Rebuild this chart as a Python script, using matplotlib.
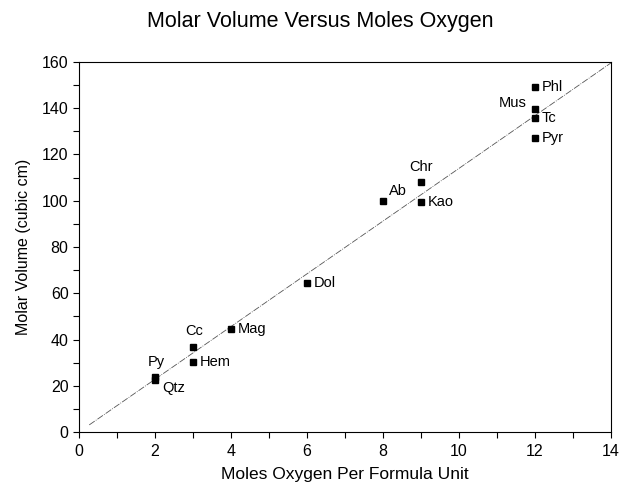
import matplotlib
matplotlib.use("Agg")
import matplotlib.pyplot as plt
import numpy as np
from matplotlib.ticker import MultipleLocator

plt.rcParams['font.family'] = ['Liberation Sans', 'DejaVu Sans']

minerals = ["Py", "Qtz", "Cc", "Hem", "Mag", "Dol", "Ab", "Chr", "Kao", "Phl", "Mus", "Tc", "Pyr"]
moles_oxygen = [2, 2, 3, 3, 4, 6, 8, 9, 9, 12, 12, 12, 12]
molar_volume = [23.7, 22.7, 36.9, 30.4, 44.5, 64.6, 100.0, 108.2, 99.3, 149.3, 139.8, 135.8, 127.1]

# label offsets in points (dx, dy) and horizontal alignment
label_offsets = {
    "Py": (1, 11, "center"), "Qtz": (5, -6, "left"), "Cc": (1, 11, "center"),
    "Hem": (5, 0, "left"), "Mag": (5, 0, "left"), "Dol": (5, 0, "left"),
    "Ab": (11, 7, "center"), "Chr": (0, 11, "center"), "Kao": (5, 0, "left"),
    "Phl": (5, 0, "left"), "Mus": (-6, 4, "right"), "Tc": (5, 0, "left"),
    "Pyr": (5, 0, "left"),
}

fit_slope = 11.4
fit_x = np.array([0.27, 14.0])

fig = plt.figure(figsize=(6.21, 4.82), dpi=100)
ax = fig.add_axes([0.1272, 0.1037, 0.8567, 0.7677])

ax.plot(fit_x, fit_slope * fit_x, color="#555555", lw=0.6,
        linestyle=(0, (8, 1.5, 1, 1.5)), zorder=1)
ax.plot(moles_oxygen, molar_volume, linestyle="none", marker="s",
        markersize=4.2, color="black", zorder=2)

for name, x, y in zip(minerals, moles_oxygen, molar_volume):
    dx, dy, ha = label_offsets[name]
    ax.annotate(name, (x, y), xytext=(dx, dy), textcoords="offset points",
                ha=ha, va="center", fontsize=10.5)

ax.set_xlim(0, 14)
ax.set_ylim(0, 160)
ax.xaxis.set_major_locator(MultipleLocator(2))
ax.xaxis.set_minor_locator(MultipleLocator(1))
ax.yaxis.set_major_locator(MultipleLocator(20))
ax.yaxis.set_minor_locator(MultipleLocator(10))
ax.tick_params(which="both", direction="out", top=False, right=False,
               labelsize=11.5, width=0.8, length=4.5)
ax.tick_params(axis="x", which="major", pad=4)
ax.tick_params(axis="y", which="major", pad=3)
for s in ax.spines.values():
    s.set_linewidth(0.8)

ax.set_xlabel("Moles Oxygen Per Formula Unit", fontsize=12.5, labelpad=6)
ax.set_ylabel("Molar Volume (cubic cm)", fontsize=11.5, labelpad=8)
fig.text(0.516, 1 - 27 / 482, "Molar Volume Versus Moles Oxygen", ha="center",
         va="baseline", fontsize=15.5)

fig.savefig("out.png", dpi=100)
